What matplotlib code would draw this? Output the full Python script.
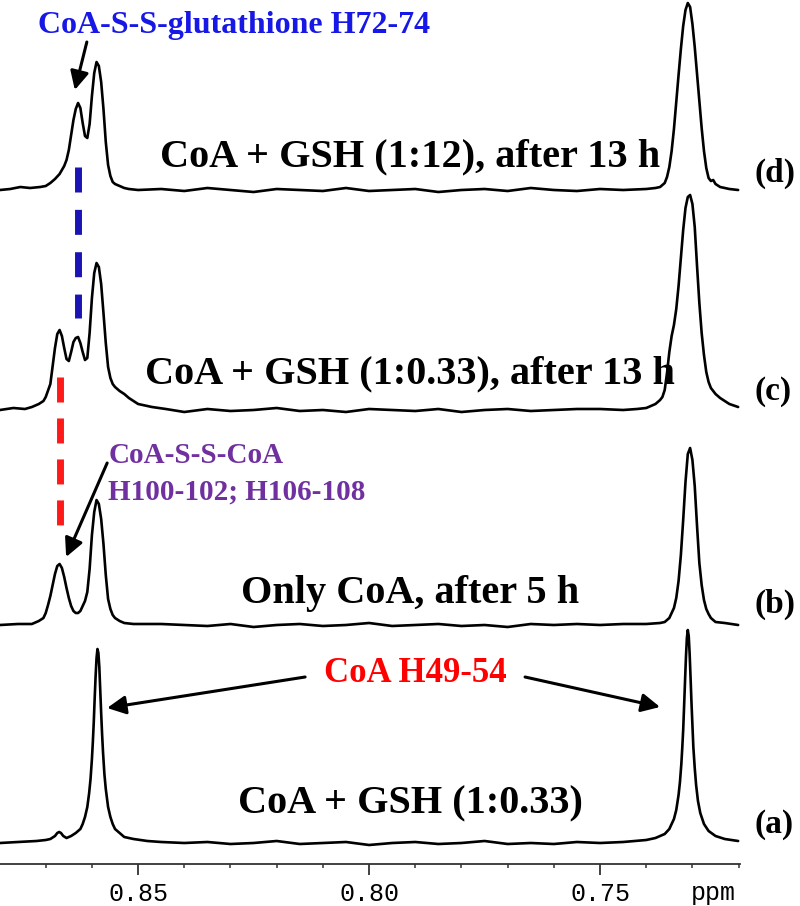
import matplotlib
matplotlib.use("Agg")
import matplotlib.pyplot as plt
from matplotlib.patches import FancyArrowPatch
import numpy as np

# ---------------- data: chemical shift (ppm) and intensity (plot units) ----------------
# flat middle part of every spectrum (between the two resonance regions)
mid_shift = [0.8400, 0.8350, 0.8300, 0.8250, 0.8200, 0.8150, 0.8100, 0.8050, 0.8000,
             0.7950, 0.7900, 0.7850, 0.7800, 0.7750, 0.7700, 0.7650, 0.7600, 0.7550,
             0.7500, 0.7450]

# (a) CoA + GSH (1:0.33)
a_left_shift = [0.8799, 0.8760, 0.8720, 0.8700, 0.8690, 0.8680, 0.8675, 0.8671, 0.8667,
                0.8662, 0.8655, 0.8645, 0.8635, 0.8625, 0.8620, 0.8615, 0.8610, 0.8606,
                0.8603, 0.8600, 0.8598, 0.8596, 0.8594, 0.8592, 0.8590, 0.8588, 0.8586,
                0.8584, 0.8582, 0.8580, 0.8578, 0.8576, 0.8573, 0.8570, 0.8565, 0.8560,
                0.8555, 0.8550, 0.8540, 0.8530, 0.8510, 0.8480, 0.8450]
a_left_int = [0, 1, 2, 3, 4, 7, 10, 11, 10,
              7, 5, 7, 10, 14, 19, 26, 36, 50,
              64, 84, 101, 121, 145, 167, 185, 194, 190,
              176, 153, 130, 109, 91, 69, 54, 36, 26,
              19, 14, 10, 6, 4, 2, 1]
a_mid_int = [0, 1, -1, 0, 2, -1, 0, 1, -2, 0, 1, -1, 0, 2, -1, 0, -1, 1, 0]
a_right_shift = [0.7450, 0.7400, 0.7380, 0.7360, 0.7350, 0.7340, 0.7335, 0.7330, 0.7327,
                 0.7324, 0.7322, 0.7320, 0.7318, 0.7316, 0.7314, 0.7312, 0.7310, 0.7308,
                 0.7306, 0.7304, 0.7302, 0.7300, 0.7298, 0.7295, 0.7292, 0.7288, 0.7283,
                 0.7275, 0.7265, 0.7250, 0.7230, 0.7201]
a_right_int = [1, 3, 5, 9, 14, 24, 33, 48, 61,
               79, 95, 113, 137, 162, 186, 205, 213, 207,
               189, 165, 140, 118, 96, 75, 58, 42, 30,
               19, 12, 7, 4, 2]

# (b) Only CoA, after 5 h
b_left_shift = [0.8799, 0.8760, 0.8730, 0.8715, 0.8705, 0.8700, 0.8695, 0.8690, 0.8685,
                0.8680, 0.8675, 0.8670, 0.8665, 0.8660, 0.8655, 0.8650, 0.8645, 0.8640,
                0.8635, 0.8630, 0.8625, 0.8620, 0.8615, 0.8610, 0.8605, 0.8600, 0.8595,
                0.8590, 0.8585, 0.8580, 0.8575, 0.8570, 0.8565, 0.8560, 0.8555, 0.8550,
                0.8540, 0.8530, 0.8510, 0.8450]
b_left_int = [0, 1, 1, 4, 7, 12, 20, 29, 40,
              51, 59, 61, 57, 48, 37, 27, 19, 14,
              12, 12, 14, 19, 24, 33, 56, 90, 113,
              125, 121, 106, 81, 50, 26, 16, 10, 7,
              4, 2, 1, 1]
b_mid_int = [0, -1, 1, -2, 0, 1, -1, 0, 2, -1, 0, 1, -1, 0, -2, 1, 0, 1, 0, 1]
b_right_shift = [0.7400, 0.7370, 0.7360, 0.7355, 0.7350, 0.7345, 0.7340, 0.7335, 0.7330,
                 0.7325, 0.7320, 0.7315, 0.7310, 0.7305, 0.7300, 0.7295, 0.7290, 0.7285,
                 0.7280, 0.7275, 0.7270, 0.7265, 0.7260, 0.7250, 0.7230, 0.7201]
b_right_int = [1, 2, 3, 5, 7, 12, 17, 27, 44,
               70, 105, 143, 171, 177, 165, 139, 99, 62,
               40, 25, 16, 11, 7, 3, 2, 0]

# (c) CoA + GSH (1:0.33), after 13 h
c_left_shift = [0.8799, 0.8770, 0.8745, 0.8730, 0.8715, 0.8705, 0.8700, 0.8690, 0.8685,
                0.8680, 0.8675, 0.8670, 0.8665, 0.8660, 0.8655, 0.8650, 0.8645, 0.8640,
                0.8635, 0.8630, 0.8625, 0.8620, 0.8615, 0.8610, 0.8605, 0.8600, 0.8595,
                0.8590, 0.8585, 0.8580, 0.8575, 0.8570, 0.8565, 0.8560, 0.8555, 0.8550,
                0.8540, 0.8530, 0.8520, 0.8500, 0.8470, 0.8440]
c_left_int = [0, 2, 1, 3, 6, 9, 13, 26, 44,
              62, 76, 80, 74, 62, 51, 49, 58, 68,
              72, 73, 67, 58, 50, 52, 77, 112, 137,
              147, 143, 126, 97, 67, 43, 32, 26, 23,
              19, 16, 12, 6, 3, 1]
c_mid_int = [-2, 1, -1, 0, 2, -1, 0, -2, 1, 0, -1, 1, -2, 0, 1, -1, 0, 1, 1, 0]
c_right_shift = [0.7420, 0.7400, 0.7380, 0.7370, 0.7365, 0.7360, 0.7355, 0.7350, 0.7345,
                 0.7340, 0.7335, 0.7330, 0.7325, 0.7320, 0.7315, 0.7310, 0.7305, 0.7300,
                 0.7295, 0.7290, 0.7285, 0.7280, 0.7275, 0.7270, 0.7265, 0.7260, 0.7250,
                 0.7240, 0.7230, 0.7220, 0.7201]
c_right_int = [1, 2, 6, 10, 13, 20, 37, 58, 74,
               85, 101, 124, 152, 180, 202, 213, 215, 206,
               183, 144, 107, 77, 55, 38, 28, 22, 16,
               12, 9, 6, 3]

# (d) CoA + GSH (1:12), after 13 h
d_left_shift = [0.8799, 0.8777, 0.8755, 0.8734, 0.8712, 0.8700, 0.8690, 0.8680, 0.8670,
                0.8665, 0.8660, 0.8655, 0.8650, 0.8645, 0.8640, 0.8635, 0.8630, 0.8625,
                0.8620, 0.8615, 0.8610, 0.8605, 0.8600, 0.8595, 0.8590, 0.8585, 0.8580,
                0.8575, 0.8570, 0.8565, 0.8560, 0.8555, 0.8550, 0.8540, 0.8530, 0.8520,
                0.8500, 0.8450]
d_left_int = [0, 1, 3, 2, 3, 4, 7, 11, 16,
              20, 24, 30, 40, 55, 70, 81, 87, 82,
              67, 54, 52, 66, 94, 117, 128, 124, 108,
              81, 48, 25, 14, 8, 6, 4, 2, 1,
              0, 1]
d_mid_int = [-1, 2, 0, -2, 1, 0, -1, 2, -1, 0, 1, -2, 0, 1, -1, 2, 0, -1, 1, 0]
d_right_shift = [0.7400, 0.7380, 0.7370, 0.7365, 0.7360, 0.7355, 0.7350, 0.7345, 0.7340,
                 0.7335, 0.7330, 0.7325, 0.7320, 0.7315, 0.7310, 0.7305, 0.7300, 0.7295,
                 0.7290, 0.7285, 0.7280, 0.7275, 0.7270, 0.7265, 0.7260, 0.7255, 0.7250,
                 0.7240, 0.7230, 0.7220, 0.7201]
d_right_int = [1, 2, 3, 5, 7, 13, 23, 39, 61,
               88, 115, 141, 164, 180, 187, 183, 166, 143,
               116, 89, 62, 39, 22, 12, 9, 10, 6,
               3, 2, 1, 0]

offsets = [21, 239, 454, 674]          # vertical stacking of the four spectra
panel_tags = ["(a)", "(b)", "(c)", "(d)"]
conditions = ["CoA + GSH (1:0.33)", "Only CoA, after 5 h",
              "CoA + GSH (1:0.33), after 13 h", "CoA + GSH (1:12), after 13 h"]

peak_gsh = 0.8630        # CoA-S-S-glutathione H72-74
peak_sscoa = 0.8670      # CoA-S-S-CoA

major_ticks = [0.85, 0.80, 0.75]
minor_ticks = [0.87, 0.86, 0.85, 0.84, 0.83, 0.82, 0.81, 0.80, 0.79, 0.78,
               0.77, 0.76, 0.75, 0.74, 0.73, 0.72]
tick_labels = ["0.85", "0.80", "0.75"]

# ---------------- figure ----------------
W, H = 800, 906
fig = plt.figure(figsize=(W / 100, H / 100), dpi=100)
ax = fig.add_axes([0, 42 / H, 740 / W, 864 / H])
ax.set_xlim(0.8799, 0.7197)
ax.set_ylim(0, 864)

serif = "Liberation Serif"

a_mid_shift = mid_shift[:-1]
spectra = [
    (a_left_shift + a_mid_shift + a_right_shift, a_left_int + a_mid_int + a_right_int),
    (b_left_shift + mid_shift + b_right_shift, b_left_int + b_mid_int + b_right_int),
    (c_left_shift + mid_shift + c_right_shift, c_left_int + c_mid_int + c_right_int),
    (d_left_shift + mid_shift + d_right_shift, d_left_int + d_mid_int + d_right_int),
]
for (sx, sy), off in zip(spectra, offsets):
    ax.plot(sx, np.asarray(sy) + off, color="black", lw=1.9,
            solid_joinstyle="round", solid_capstyle="round")

# axis styling
for s in ["top", "left", "right"]:
    ax.spines[s].set_visible(False)
ax.spines["bottom"].set_linewidth(1.3)
ax.spines["bottom"].set_color("#333333")
ax.set_yticks([])
ax.set_xticks(major_ticks)
ax.set_xticklabels(tick_labels, fontfamily="Liberation Mono", fontsize=18)
ax.set_xticks(minor_ticks, minor=True)
ax.tick_params(axis="x", which="major", length=8, width=1.3, color="#333333", pad=5)
ax.tick_params(axis="x", which="minor", length=3, width=1.1, color="#333333")
ax.text(0.7255, -29, "ppm", fontfamily="Liberation Mono", fontsize=18,
        ha="center", va="center", clip_on=False)

# condition labels and panel tags
cond_y = [51, 261, 481, 698]
tag_y = [31, 251, 464, 682]
for txt, y in zip(conditions, cond_y):
    ax.text(0.7911, y, txt, fontfamily=serif, fontweight="bold", fontsize=29,
            ha="center", va="baseline", color="black")
for txt, y in zip(panel_tags, tag_y):
    ax.text(0.7166, y, txt, fontfamily=serif, fontweight="bold", fontsize=24,
            ha="left", va="baseline", color="black", clip_on=False)

# dashed guide lines
blue = "#1a14b4"
red = "#ff1a1a"
lw_dash = 5
ax.plot([peak_gsh, peak_gsh], [697, 546], color=blue, lw=lw_dash,
        linestyle=(0, (18 / lw_dash, 12.5 / lw_dash)), dash_capstyle="butt")
ax.plot([peak_sscoa, peak_sscoa], [487, 337], color=red, lw=lw_dash,
        linestyle=(0, (18 / lw_dash, 11.5 / lw_dash)), dash_capstyle="butt")

# annotations
def arrow(x0, y0, x1, y1):
    a = FancyArrowPatch((x0, y0), (x1, y1), arrowstyle="-|>", mutation_scale=28,
                        lw=2.2, color="black", shrinkA=0, shrinkB=0)
    ax.add_patch(a)

ax.text(0.87165, 831, "CoA-S-S-glutathione H72-74", fontfamily=serif, fontweight="bold",
        fontsize=23, color="#1717e6", ha="left", va="baseline")
arrow(0.8611, 822, 0.8637, 774)

ax.text(0.85649, 401, "CoA-S-S-CoA", fontfamily=serif, fontweight="bold",
        fontsize=21, color="#7030a0", ha="left", va="baseline")
ax.text(0.85649, 364, "H100-102; H106-108", fontfamily=serif, fontweight="bold",
        fontsize=21, color="#7030a0", ha="left", va="baseline")
arrow(0.8567, 401, 0.86558, 307)

ax.text(0.7900, 182, "CoA H49-54", fontfamily=serif, fontweight="bold",
        fontsize=25, color="#ff0000", ha="center", va="baseline")
arrow(0.81385, 187, 0.85671, 156)
arrow(0.76623, 187, 0.73701, 157)

fig.savefig("out.png", dpi=100)
